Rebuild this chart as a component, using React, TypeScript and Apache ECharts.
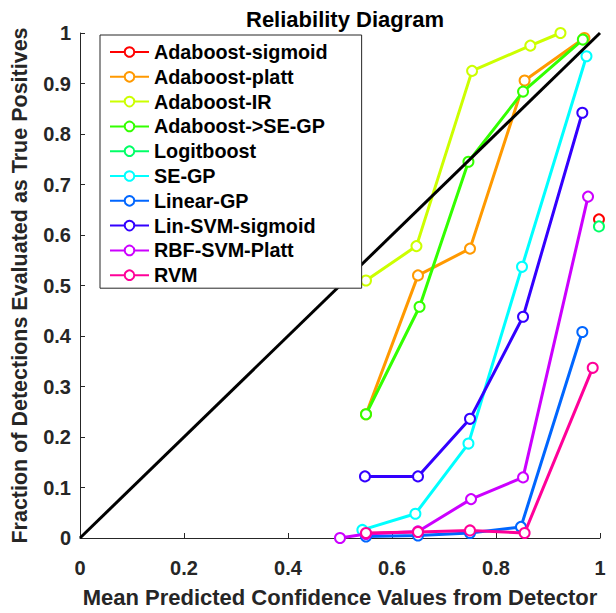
import React, { useEffect, useRef } from "react";
import * as echarts from "echarts";

const seriesNames = [
  "Adaboost-sigmoid",
  "Adaboost-platt",
  "Adaboost-IR",
  "Adaboost->SE-GP",
  "Logitboost",
  "SE-GP",
  "Linear-GP",
  "Lin-SVM-sigmoid",
  "RBF-SVM-Platt",
  "RVM",
];
const seriesColors = [
  "#ff0000",
  "#ff9900",
  "#ccff00",
  "#33ff00",
  "#00ff66",
  "#00ffff",
  "#0066ff",
  "#3300ff",
  "#cc00ff",
  "#ff0099",
];

const adaboostSigmoidX = [0.998];
const adaboostSigmoidY = [0.631];
const adaboostPlattX = [0.55, 0.65, 0.75, 0.855, 0.97];
const adaboostPlattY = [0.245, 0.52, 0.573, 0.906, 0.99];
const adaboostIRX = [0.55, 0.647, 0.754, 0.866, 0.924];
const adaboostIRY = [0.51, 0.578, 0.925, 0.975, 1.0];
const adaboostSEGPX = [0.55, 0.653, 0.747, 0.852, 0.967];
const adaboostSEGPY = [0.245, 0.458, 0.745, 0.884, 0.987];
const logitboostX = [0.998];
const logitboostY = [0.617];
const seGPX = [0.543, 0.645, 0.747, 0.85, 0.974];
const seGPY = [0.016, 0.048, 0.187, 0.537, 0.954];
const linearGPX = [0.55, 0.65, 0.75, 0.848, 0.966];
const linearGPY = [0.003, 0.005, 0.01, 0.022, 0.408];
const linSVMX = [0.548, 0.65, 0.75, 0.852, 0.966];
const linSVMY = [0.122, 0.122, 0.236, 0.438, 0.842];
const rbfX = [0.5, 0.55, 0.65, 0.752, 0.852, 0.977];
const rbfY = [0.0, 0.008, 0.013, 0.077, 0.12, 0.676];
const rvmX = [0.55, 0.65, 0.75, 0.855, 0.986];
const rvmY = [0.01, 0.012, 0.015, 0.01, 0.337];

const diagonalX = [0, 1];
const diagonalY = [0, 1];

const allX = [
  adaboostSigmoidX,
  adaboostPlattX,
  adaboostIRX,
  adaboostSEGPX,
  logitboostX,
  seGPX,
  linearGPX,
  linSVMX,
  rbfX,
  rvmX,
];
const allY = [
  adaboostSigmoidY,
  adaboostPlattY,
  adaboostIRY,
  adaboostSEGPY,
  logitboostY,
  seGPY,
  linearGPY,
  linSVMY,
  rbfY,
  rvmY,
];

const FONT = "'Liberation Sans', Arial, sans-serif";
const AXIS_COLOR = "#262626";

export default function App() {
  const ref = useRef<HTMLDivElement>(null);
  useEffect(() => {
    if (!ref.current) return;
    const chart = echarts.init(ref.current, null, { renderer: "svg" });
    const pairs = (xs: number[], ys: number[]) => xs.map((x, i) => [x, ys[i]]);
    const series: any[] = seriesNames.map((name, i) => ({
      name,
      type: "line",
      data: pairs(allX[i], allY[i]),
      symbol: "emptyCircle",
      symbolSize: 10,
      showSymbol: true,
      color: seriesColors[i],
      lineStyle: { width: 3, color: seriesColors[i] },
      itemStyle: { color: seriesColors[i], borderWidth: 3 },
      z: 2 + i * 0.01,
    }));
    series.push({
      name: "diagonal",
      type: "line",
      data: pairs(diagonalX, diagonalY),
      symbol: "none",
      lineStyle: { width: 3, color: "#000" },
      z: 3,
    });
    chart.setOption({
      animation: false,
      backgroundColor: "#fff",
      textStyle: { fontFamily: FONT },
      title: {
        text: "Reliability Diagram",
        left: 241,
        top: 3,
        textStyle: { fontFamily: FONT, fontSize: 22, fontWeight: "bold", color: "#000" },
      },
      grid: { left: 80, top: 33, width: 520, height: 518 },
      xAxis: {
        type: "value",
        min: 0,
        max: 1,
        interval: 0.2,
        name: "Mean Predicted Confidence Values from Detector",
        nameLocation: "middle",
        nameGap: 48,
        nameTextStyle: { fontFamily: FONT, fontSize: 22, fontWeight: "bold", color: AXIS_COLOR },
        axisLine: { show: true, lineStyle: { color: AXIS_COLOR, width: 1 } },
        axisTick: { show: true, inside: true, length: 5, lineStyle: { color: AXIS_COLOR } },
        axisLabel: { fontFamily: FONT, fontSize: 20, fontWeight: "bold", color: AXIS_COLOR, margin: 20 },
        splitLine: { show: false },
      },
      yAxis: {
        type: "value",
        min: 0,
        max: 1,
        interval: 0.1,
        name: "Fraction of Detections Evaluated as True Positives",
        nameLocation: "middle",
        nameGap: 49,
        nameTextStyle: { fontFamily: FONT, fontSize: 21.5, fontWeight: "bold", color: AXIS_COLOR },
        axisLine: { show: true, lineStyle: { color: AXIS_COLOR, width: 1 } },
        axisTick: { show: true, inside: true, length: 5, lineStyle: { color: AXIS_COLOR } },
        axisLabel: { fontFamily: FONT, fontSize: 20, fontWeight: "bold", color: AXIS_COLOR, margin: 9 },
        splitLine: { show: false },
      },
      legend: {
        data: seriesNames,
        orient: "vertical",
        left: 100,
        top: 35,
        itemWidth: 39,
        itemHeight: 12,
        itemGap: 4.8,
        padding: [7, 34, 3, 9],
        backgroundColor: "#fff",
        borderColor: AXIS_COLOR,
        borderWidth: 1,
        borderRadius: 0,
        textStyle: { fontFamily: FONT, fontSize: 19.8, fontWeight: "bold", color: "#000", lineHeight: 20 },
      },
      series,
    });
    return () => chart.dispose();
  }, []);
  return <div ref={ref} style={{ width: 616, height: 613, position: "absolute", left: 0, top: 0 }} />;
}
